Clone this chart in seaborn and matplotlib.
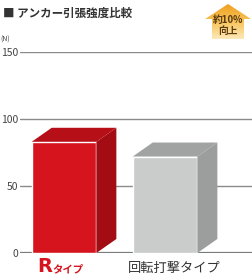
import numpy as np
import matplotlib
matplotlib.use("Agg")
import matplotlib.pyplot as plt
import seaborn as sns
from matplotlib.patches import Polygon

# データ
types = ["Rタイプ", "回転打撃タイプ"]
strength = [83, 72]
yticks = [0, 50, 100, 150]

sns.set_style("white")
plt.rcParams["font.family"] = ["Noto Sans CJK JP", "DejaVu Sans"]

fig = plt.figure(figsize=(2.52, 2.80), dpi=100)
ax = fig.add_axes([20 / 252, 27 / 280, 232 / 252, 201 / 280])

front = ["#d5141e", "#c9cccb"]
top = ["#b70f17", "#a0a3a2"]
side = ["#a30c13", "#9b9e9d"]

sns.barplot(x=types, y=strength, hue=types, palette=front, legend=False,
            width=0.64, saturation=1, ax=ax, zorder=3)

ax.set_ylim(0, 150)
ax.set_xlim(-0.436, 1.861)
ax.set_yticks(yticks)
ax.set_xticks([])
ax.tick_params(axis="y", length=0, pad=1.5, labelsize=7.5, labelcolor="#444444")
ax.yaxis.grid(True, color="#8a8a8a", linewidth=1.0, zorder=0)
for s in ax.spines.values():
    s.set_visible(False)
ax.axhline(0, color="#7a7a7a", linewidth=1.6, zorder=2)

# 立体部分（奥行き）
dx = 20 / 101
dy = 14 / 1.34
for i, p in enumerate(ax.patches):
    x0, w, h = p.get_x(), p.get_width(), p.get_height()
    x1 = x0 + w
    ax.add_patch(Polygon([(x1, 0), (x1 + dx, dy), (x1 + dx, h + dy), (x1, h)],
                         closed=True, facecolor=side[i], edgecolor="none", zorder=3))
    ax.add_patch(Polygon([(x0, h), (x0 + dx, h + dy), (x1 + dx, h + dy), (x1, h)],
                         closed=True, facecolor=top[i], edgecolor="none", zorder=3))

# カテゴリラベル
ax.annotate("R", xy=(-0.267, 0), xycoords=("data", "axes fraction"),
            xytext=(0, -19), textcoords="offset pixels", ha="left", va="baseline",
            fontsize=14, fontweight="bold", color="#d5141e", family="DejaVu Sans")
ax.annotate(types[0][1:], xy=(-0.12, 0), xycoords=("data", "axes fraction"),
            xytext=(0, -19), textcoords="offset pixels", ha="left", va="baseline",
            fontsize=7.5, fontweight="bold", color="#d5141e")
ax.annotate(types[1], xy=(1, 0), xycoords=("data", "axes fraction"),
            xytext=(9, -19), textcoords="offset pixels", ha="center", va="baseline",
            fontsize=9.5, color="#333333")

# タイトル
fig.text(3 / 252, 1 - 13 / 280, "■ アンカー引張強度比較", fontsize=8.3,
         fontweight="bold", color="#333333", va="center", ha="left")
fig.text(0 / 252, 1 - 40 / 280, "(N)", fontsize=5, color="#444444", va="center", ha="left")

# 矢印バッジ
bax = fig.add_axes([204 / 252, 1 - 39 / 280, 47 / 252, 35 / 280])
bax.set_xlim(0, 47)
bax.set_ylim(35, 0)
bax.axis("off")
grad = np.linspace(0, 1, 100).reshape(-1, 1)
arrow = Polygon([(24, 0), (47, 15), (40, 15), (40, 35), (8, 35), (8, 15), (1, 15)],
                closed=True, facecolor="none", edgecolor="none")
bax.add_patch(arrow)
cmap = matplotlib.colors.LinearSegmentedColormap.from_list("o", ["#f0a020", "#f7c45a", "#fde8b8"])
im = bax.imshow(grad, cmap=cmap, extent=[0, 47, 35, 0], aspect="auto")
im.set_clip_path(arrow)
bax.text(24, 16, "約10%", fontsize=7, fontweight="bold", color="#5a3a10", ha="center", va="center")
bax.text(24, 26.5, "向上", fontsize=7, fontweight="bold", color="#5a3a10", ha="center", va="center")

fig.savefig("out.png", dpi=100)
